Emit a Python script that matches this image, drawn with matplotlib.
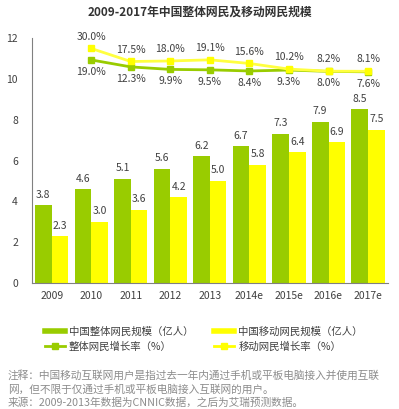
import matplotlib
matplotlib.use("Agg")
import matplotlib.pyplot as plt
from matplotlib.lines import Line2D
import numpy as np

plt.rcParams['font.family'] = ['Noto Sans CJK SC', 'DejaVu Sans']

years = ["2009", "2010", "2011", "2012", "2013", "2014e", "2015e", "2016e", "2017e"]
total_users = [3.8, 4.6, 5.1, 5.6, 6.2, 6.7, 7.3, 7.9, 8.5]
mobile_users = [2.3, 3.0, 3.6, 4.2, 5.0, 5.8, 6.4, 6.9, 7.5]
growth_years = years[1:]
total_growth = [19.0, 12.3, 9.9, 9.5, 8.4, 9.3, 8.0, 7.6]
mobile_growth = [30.0, 17.5, 18.0, 19.1, 15.6, 10.2, 8.2, 8.1]

green = "#99CC00"
yellow = "#FFFF00"
txt = "#404040"

fig = plt.figure(figsize=(3.99, 4.09), dpi=100)
ax = fig.add_axes([0.080, 0.308, 0.892, 0.599])

x = np.arange(len(years))
w = 0.42
b1 = ax.bar(x - w / 2, total_users, w, color=green)
b2 = ax.bar(x + w / 2, mobile_users, w, color=yellow)
for xi, v in zip(x, total_users):
    ax.annotate(f"{v:.1f}", (xi - w / 2, v), xytext=(0, 4), textcoords="offset points",
                ha="center", va="bottom", fontsize=7.5, color=txt)
for xi, v in zip(x, mobile_users):
    ax.annotate(f"{v:.1f}", (xi + w / 2, v), xytext=(0, 4), textcoords="offset points",
                ha="center", va="bottom", fontsize=7.5, color=txt)

ax.set_xlim(-0.5, len(years) - 0.5)
ax.set_ylim(0, 12)
ax.set_yticks([0, 2, 4, 6, 8, 10, 12])
ax.set_xticks(x)
ax.set_xticklabels(years)
ax.tick_params(axis="both", length=0, labelsize=7.5, labelcolor=txt)
ax.tick_params(axis="y", pad=10)
ax.tick_params(axis="x", pad=6)
for s in ["top", "right"]:
    ax.spines[s].set_visible(False)
for s in ["left", "bottom"]:
    ax.spines[s].set_color("#808080")
    ax.spines[s].set_linewidth(0.8)

# growth rates on hidden secondary axis
ax2 = ax.twinx()
ax2.set_ylim(-195, 40)
ax2.axis("off")
gx = x[1:]
ax2.plot(gx, total_growth, color=green, lw=2, marker="s", ms=4.5, mfc=green, mec=green)
ax2.plot(gx, mobile_growth, color="#FFFF40", lw=2, marker="s", ms=4.5, mfc=yellow, mec=yellow)
for xi, v in zip(gx, mobile_growth):
    ax2.annotate(f"{v:.1f}%", (xi, v), xytext=(0, 5), textcoords="offset points",
                 ha="center", va="bottom", fontsize=7.5, color=txt)
for xi, v in zip(gx, total_growth):
    ax2.annotate(f"{v:.1f}%", (xi, v), xytext=(0, -5), textcoords="offset points",
                 ha="center", va="top", fontsize=7.5, color=txt)

fig.text(0.5, 0.97, "2009-2017年中国整体网民及移动网民规模", ha="center", va="center",
         fontsize=8.5, fontweight="bold", color="#333333")

handles = [
    Line2D([], [], color=green, lw=4),
    Line2D([], [], color=green, lw=2, marker="s", ms=4.5),
    Line2D([], [], color=yellow, lw=4),
    Line2D([], [], color=yellow, lw=2, marker="s", ms=4.5),
]
labels = ["中国整体网民规模（亿人）", "整体网民增长率（%）", "中国移动网民规模（亿人）", "移动网民增长率（%）"]
leg = fig.legend(handles, labels, ncol=2, loc="upper left", bbox_to_anchor=(0.10, 0.215),
                 frameon=False, fontsize=7.5, handlelength=1.9, handletextpad=0.4,
                 columnspacing=2.0, labelspacing=0.45, borderpad=0)
for t in leg.get_texts():
    t.set_color(txt)

notes = ["注释：中国移动互联网用户是指过去一年内通过手机或平板电脑接入并使用互联",
         "网，但不限于仅通过手机或平板电脑接入互联网的用户。",
         "来源：2009-2013年数据为CNNIC数据，之后为艾瑞预测数据。"]
for i, line in enumerate(notes):
    fig.text(0.02, 0.083 - i * 0.034, line, ha="left", va="center", fontsize=7.7, color="#8c8c8c")

fig.savefig("out.png", dpi=100)
